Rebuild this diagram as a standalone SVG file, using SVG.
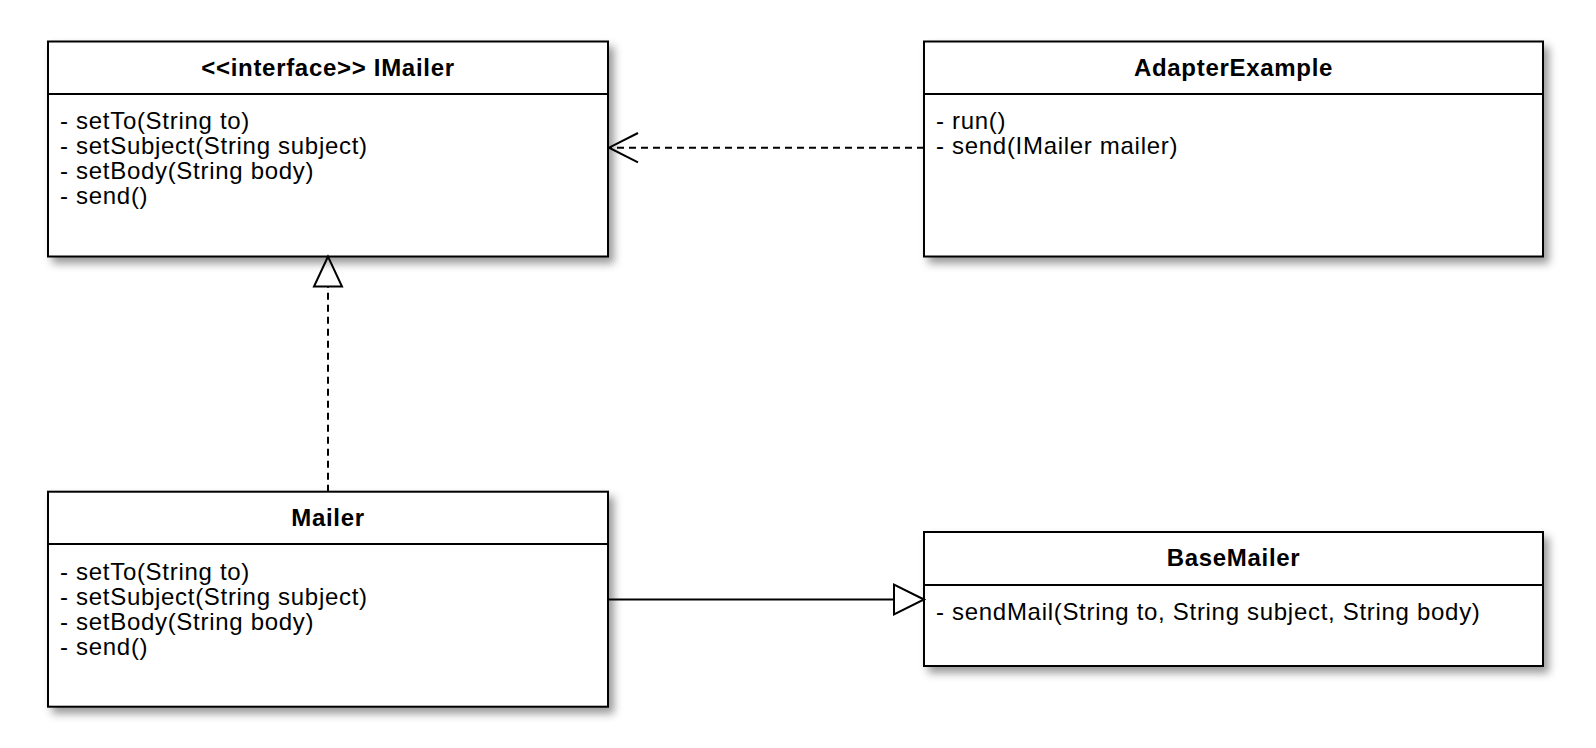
<svg xmlns="http://www.w3.org/2000/svg" width="1596" height="748" viewBox="0 0 1596 748">
<style>
.box{fill:#fff;stroke:#000;stroke-width:2}
.sep{stroke:#000;stroke-width:2;fill:none}
.title{font-family:"Liberation Sans",Arial,sans-serif;font-size:24px;font-weight:bold;text-anchor:middle;letter-spacing:0.7px}
.mem{font-family:"Liberation Sans",Arial,sans-serif;font-size:24px;letter-spacing:0.7px}
.edge{stroke:#000;stroke-width:2;fill:none}
.dash{stroke-dasharray:7 5}
</style>
<defs>
<filter id="sh" x="-10%" y="-10%" width="130%" height="130%">
<feDropShadow dx="5" dy="6" stdDeviation="4" flood-color="#000" flood-opacity="0.4"/>
</filter>
</defs>
<rect width="1596" height="748" fill="#fff"/>
<g id="IMailer">
<rect class="box" x="48" y="41.5" width="560" height="215" filter="url(#sh)"/>
<line class="sep" x1="48" y1="94" x2="608" y2="94"/>
<text class="title" x="328" y="75.5">&lt;&lt;interface&gt;&gt; IMailer</text>
<text class="mem" x="60" y="129.3">- setTo(String to)</text>
<text class="mem" x="60" y="154.3">- setSubject(String subject)</text>
<text class="mem" x="60" y="179.3">- setBody(String body)</text>
<text class="mem" x="60" y="204.3">- send()</text>
</g>
<g id="AdapterExample">
<rect class="box" x="924" y="41.5" width="619" height="215" filter="url(#sh)"/>
<line class="sep" x1="924" y1="94" x2="1543" y2="94"/>
<text class="title" x="1233.5" y="75.5">AdapterExample</text>
<text class="mem" x="936" y="129.3">- run()</text>
<text class="mem" x="936" y="154.3">- send(IMailer mailer)</text>
</g>
<g id="Mailer">
<rect class="box" x="48" y="491.7" width="560" height="215" filter="url(#sh)"/>
<line class="sep" x1="48" y1="544" x2="608" y2="544"/>
<text class="title" x="328" y="525.7">Mailer</text>
<text class="mem" x="60" y="579.5">- setTo(String to)</text>
<text class="mem" x="60" y="604.5">- setSubject(String subject)</text>
<text class="mem" x="60" y="629.5">- setBody(String body)</text>
<text class="mem" x="60" y="654.5">- send()</text>
</g>
<g id="BaseMailer">
<rect class="box" x="924" y="532" width="619" height="134" filter="url(#sh)"/>
<line class="sep" x1="924" y1="585" x2="1543" y2="585"/>
<text class="title" x="1233.5" y="566">BaseMailer</text>
<text class="mem" x="936" y="620.3">- sendMail(String to, String subject, String body)</text>
</g>
<g id="connectors">
<line class="edge dash" x1="924" y1="147.7" x2="610" y2="147.7"/>
<polyline class="edge" points="638,133 609,147.7 638,162.4"/>
<line class="edge dash" x1="328" y1="491.7" x2="328" y2="286.5"/>
<polygon class="edge" fill="#fff" points="328,256.5 314,286.5 342,286.5"/>
<line class="edge" x1="608" y1="599.5" x2="894" y2="599.5"/>
<polygon class="edge" fill="#fff" points="924,599.5 894,584.5 894,614.5"/>
</g>
</svg>
